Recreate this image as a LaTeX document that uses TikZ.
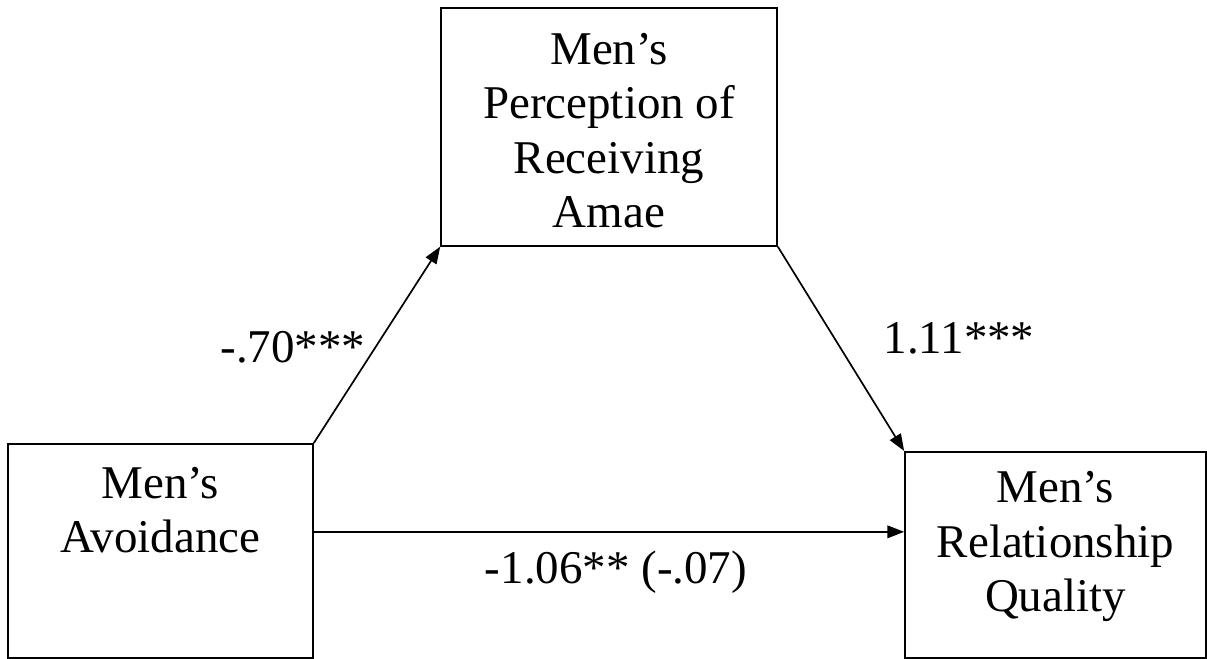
\documentclass[tikz,border=0pt]{standalone}
\usepackage{fontspec}
\setmainfont{Liberation Serif}
\usetikzlibrary{arrows.meta}

\begin{document}
\begin{tikzpicture}[
  var/.style={draw, line width=1.2pt, inner sep=0pt, align=center, anchor=north, font=\fontsize{33.4}{38.8}\selectfont},
  coef/.style={anchor=base, inner sep=0pt, font=\fontsize{33.4}{38.8}\selectfont},
  effect/.style={line width=1.2pt, -{Triangle[length=12pt, width=9pt]}}
]
\useasboundingbox (0,0) rectangle (30.175,-16.45);

\node[var, minimum width=8.4cm, text height=5.5cm, text depth=0.45cm] (amae) at (15.225,-0.175) {Men's\\Perception of\\Receiving\\Amae};
\node[var, minimum width=7.625cm, text height=2.725cm, text depth=2.625cm] (avoid) at (4.0125,-11.075) {Men's\\Avoidance};
\node[var, minimum width=7.525cm, text height=4.0cm, text depth=1.15cm] (quality) at (26.3875,-11.275) {Men's\\Relationship\\Quality};

\node[coef] (apath) at (7.325,-9.05) {-.70***};
\node[coef] (bpath) at (23.975,-8.825) {1.11***};
\node[coef] (cpath) at (15.4,-14.575) {-1.06** (-.07)};

\draw[effect] (avoid.north east) -- (amae.south west);
\draw[effect] (amae.south east) -- (quality.north west);
\draw[effect] ([yshift=0.475cm]avoid.east) -- ([yshift=0.575cm]quality.west);
\end{tikzpicture}
\end{document}
